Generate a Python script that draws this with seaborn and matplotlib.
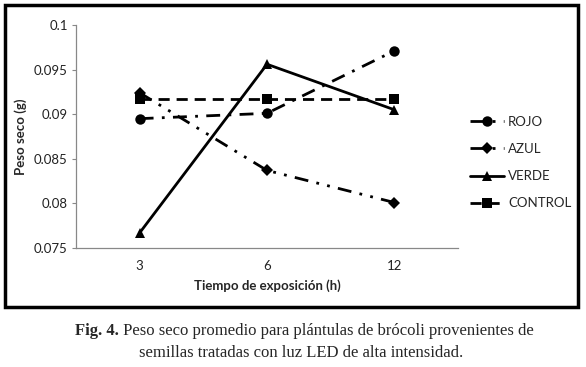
import matplotlib
matplotlib.use("Agg")
import matplotlib.pyplot as plt
import seaborn as sns
import pandas as pd
from matplotlib.patches import Rectangle
from matplotlib.offsetbox import TextArea, HPacker, AnchoredOffsetbox

tiempos = ["3", "6", "12"]
rojo = [0.0895, 0.0901, 0.0971]
azul = [0.0924, 0.0837, 0.0801]
verde = [0.0767, 0.0956, 0.0905]
control = [0.0917, 0.0917, 0.0917]
series = ["ROJO", "AZUL", "VERDE", "CONTROL"]
yticks = [0.075, 0.08, 0.085, 0.09, 0.095, 0.1]
ytick_labels = ["0.075", "0.08", "0.085", "0.09", "0.095", "0.1"]

rows = []
for name, vals in zip(series, [rojo, azul, verde, control]):
    for t, v in zip(tiempos, vals):
        rows.append({"Tiempo": t, "Peso": v, "Serie": name})
df = pd.DataFrame(rows)

sns.set_style("white")
plt.rcParams["font.family"] = ["Lato", "DejaVu Sans"]

W, H = 586, 367
fig = plt.figure(figsize=(W / 100, H / 100), dpi=100)
ax = fig.add_axes([76 / W, 1 - 248 / H, (458 - 76) / W, (248 - 25) / H])

sns.lineplot(
    data=df, x="Tiempo", y="Peso", hue="Serie", style="Serie",
    palette={s: "black" for s in series},
    markers={"ROJO": "o", "AZUL": "D", "VERDE": "^", "CONTROL": "s"},
    dashes={"ROJO": (5, 3, 1, 3), "AZUL": (5, 3, 1, 3, 1, 3), "VERDE": "", "CONTROL": (4, 2.5)},
    linewidth=2.0, markersize=7.5, markeredgewidth=0, ax=ax, sort=False,
)
for ln in ax.lines:
    if ln.get_marker() == "D":
        ln.set_markersize(6)

ax.set_xlim(-0.5, 2.5)
ax.set_ylim(0.075, 0.1)
ax.set_yticks(yticks)
ax.set_yticklabels(ytick_labels)
ax.tick_params(axis="y", length=3, width=0.8, color="#888888", labelsize=9.5, pad=3,
               direction="out", left=True, labelcolor="#222222")
ax.tick_params(axis="x", length=0, labelsize=9.5, pad=9, labelcolor="#222222")
for s in ["top", "right"]:
    ax.spines[s].set_visible(False)
for s in ["left", "bottom"]:
    ax.spines[s].set_color("#888888")
    ax.spines[s].set_linewidth(0.9)
ax.set_xlabel("Tiempo de exposición (h)", fontsize=9.5, fontweight="bold", labelpad=5)
ax.set_ylabel("Peso seco (g)", fontsize=9.5, fontweight="bold", labelpad=5)

handles, labels = ax.get_legend_handles_labels()
ax.legend(handles, labels, loc="upper left", bbox_to_anchor=(458 / W, 1 - 104 / H),
          bbox_transform=fig.transFigure, frameon=False, fontsize=9.5,
          handlelength=2.6, labelspacing=1.15, handletextpad=0.3)

fig.patches.append(Rectangle((5 / W, 1 - 307 / H), (578 - 5) / W, (307 - 5) / H,
                             transform=fig.transFigure, fill=False, edgecolor="black",
                             linewidth=2.5, zorder=10))

serif = ["Liberation Serif", "DejaVu Serif"]
a = TextArea("Fig. 4.", textprops=dict(family=serif, weight="bold", size=12))
b = TextArea(" Peso seco promedio para plántulas de brócoli provenientes de",
             textprops=dict(family=serif, size=12))
box = HPacker(children=[a, b], align="baseline", pad=0, sep=0)
anch = AnchoredOffsetbox(loc="center", child=box, pad=0, frameon=False,
                         bbox_to_anchor=(304 / W, 1 - 331 / H), bbox_transform=fig.transFigure)
fig.add_artist(anch)
fig.text(301 / W, 1 - 353 / H, "semillas tratadas con luz LED de alta intensidad.",
         ha="center", va="center", family=serif, size=12)

fig.savefig("out.png", dpi=100)
